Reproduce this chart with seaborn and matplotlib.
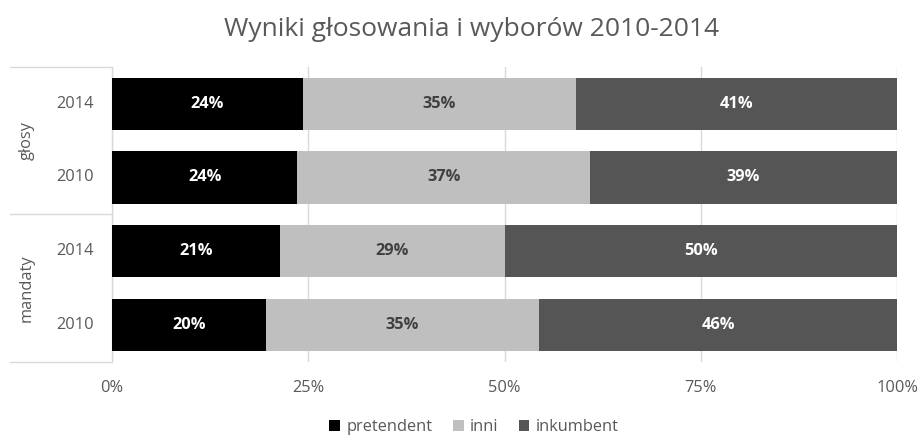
import matplotlib
matplotlib.use("Agg")
import matplotlib.pyplot as plt
import seaborn as sns
import pandas as pd
import numpy as np
from matplotlib.patches import Patch

groups = ["głosy", "głosy", "mandaty", "mandaty"]
years = ["2014", "2010", "2014", "2010"]
pretendent = [24.3, 23.6, 21.4, 19.6]
inni = [34.8, 37.3, 28.6, 34.8]
inkumbent = [40.9, 39.1, 50.0, 45.6]
series_names = ["pretendent", "inni", "inkumbent"]
colors = ["#000000", "#bfbfbf", "#555555"]
label_colors = ["white", "#404040", "white"]
xticks = [0, 25, 50, 75, 100]
title = "Wyniki głosowania i wyborów 2010-2014"

sns.set_theme(style="white")
plt.rcParams["font.family"] = ["Open Sans", "DejaVu Sans"]

rows = [f"{g} {y}" for g, y in zip(groups, years)]
df = pd.DataFrame({"row": rows, "pretendent": pretendent, "inni": inni, "inkumbent": inkumbent})
vals = df[series_names].values / 100.0
cum = np.cumsum(vals, axis=1)

fig = plt.figure(figsize=(9.21, 4.36), dpi=100)
ax = fig.add_axes([112/921, 1 - 361.5/436, (897-112)/921, (361.5-67)/436])

# draw stacked layers from the outermost (cumulative) to innermost
for i in range(2, -1, -1):
    d = pd.DataFrame({"row": rows, "v": cum[:, i]})
    sns.barplot(data=d, x="v", y="row", orient="h", color=colors[i], width=0.71,
                saturation=1, ax=ax, zorder=3, linewidth=0)

ax.set_xlim(0, 1)
ax.set_ylim(3.5, -0.5)
ax.set_xticks([t/100 for t in xticks])
ax.set_xticklabels([f"{t}%" for t in xticks], fontsize=11.8, color="#595959")
ax.tick_params(axis="x", length=0, pad=13)
ax.set_yticks([])
ax.set_xlabel("")
ax.set_ylabel("")
for s in ax.spines.values():
    s.set_visible(False)
ax.grid(axis="x", color="#d9d9d9", linewidth=1, zorder=0)
ax.set_axisbelow(True)

# data labels
for r in range(len(rows)):
    start = 0.0
    for i in range(3):
        v = vals[r, i]
        ax.text(start + v/2, r, f"{round(v*100):.0f}%", ha="center", va="center",
                fontsize=11.8, fontweight="bold", color=label_colors[i], zorder=5)
        start += v

# multi-level category axis
lc = "#d9d9d9"
x0 = (10 - 112) / 785
kw = dict(color=lc, linewidth=1, clip_on=False, transform=ax.transAxes)
ax.plot([x0, 0], [1, 1], **kw)
ax.plot([x0, 0], [0.5, 0.5], **kw)
ax.plot([x0, 0], [0, 0], **kw)
ax.plot([0, 0], [0, 1], **kw)
trans = matplotlib.transforms.blended_transform_factory(ax.transAxes, ax.transData)
for r, y in enumerate(years):
    ax.text((94 - 112) / 785, r, y, ha="right", va="center", fontsize=11.8,
            color="#595959", transform=trans)
for gname, ypos in [("głosy", 0.5), ("mandaty", 2.5)]:
    ax.text((27 - 112) / 785, ypos, gname, ha="center", va="center", rotation=90,
            fontsize=11.8, color="#595959", transform=trans)

fig.text(472/921, 1 - 29/436, title, ha="center", va="center", fontsize=19, color="#595959")

handles = [Patch(facecolor=c, edgecolor="none") for c in colors]
leg = fig.legend(handles, series_names, loc="center", bbox_to_anchor=(474/921, 1 - 427/436),
                 ncol=3, frameon=False, fontsize=11.8, handlelength=0.65, handleheight=0.65,
                 handletextpad=0.37, columnspacing=1.26, borderpad=0, borderaxespad=0)
for t in leg.get_texts():
    t.set_color("#595959")

fig.savefig("out.png", dpi=100)
